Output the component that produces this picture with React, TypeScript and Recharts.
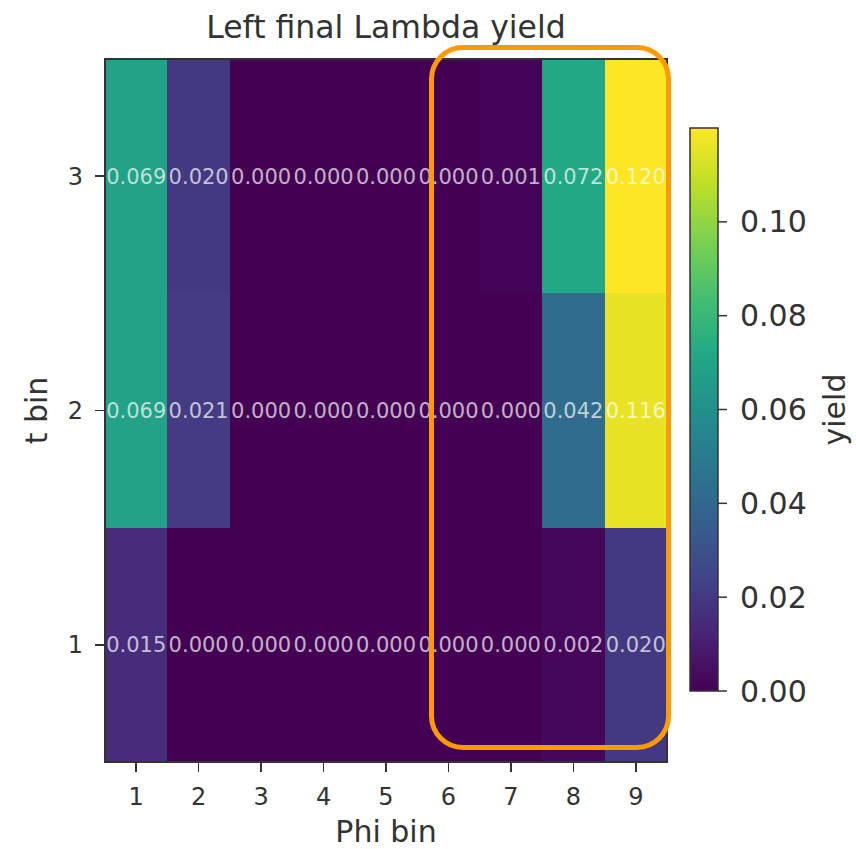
import React from 'react';
import { ComposedChart, XAxis, YAxis, ReferenceArea, Scatter } from 'recharts';

// Bin labels
const phiBins = [1, 2, 3, 4, 5, 6, 7, 8, 9];
const tBins = [1, 2, 3];

// Yield per Phi bin, one array per t bin
const yieldT1 = [0.015, 0.0, 0.0, 0.0, 0.0, 0.0, 0.0, 0.002, 0.02];
const yieldT2 = [0.069, 0.021, 0.0, 0.0, 0.0, 0.0, 0.0, 0.042, 0.116];
const yieldT3 = [0.069, 0.02, 0.0, 0.0, 0.0, 0.0, 0.001, 0.072, 0.12];

// Colour scale
const colorbarTicks = [0, 0.02, 0.04, 0.06, 0.08, 0.1];
const yieldMin = 0;
const yieldMax = 0.12;

const VIRIDIS = [
  '#440154', '#482475', '#414487', '#355f8d', '#2a788e', '#21918c',
  '#22a884', '#44bf70', '#7ad151', '#bddf26', '#fde725',
];

const FONT = '"DejaVu Sans", sans-serif';
const INK = '#333333';

function hexToRgb(h: string) {
  return [1, 3, 5].map((i) => parseInt(h.slice(i, i + 2), 16));
}

function viridis(t: number) {
  const c = Math.max(0, Math.min(1, t)) * (VIRIDIS.length - 1);
  const i = Math.min(Math.floor(c), VIRIDIS.length - 2);
  const f = c - i;
  const a = hexToRgb(VIRIDIS[i]);
  const b = hexToRgb(VIRIDIS[i + 1]);
  const m = a.map((v, k) => Math.round(v + (b[k] - v) * f));
  return `rgb(${m[0]},${m[1]},${m[2]})`;
}

const rows = [yieldT1, yieldT2, yieldT3];
const cells = tBins.flatMap((t, i) =>
  rows[i].map((v, j) => ({ phi: phiBins[j], t, v }))
);

// two corner points spanning the colour bar
const colorbarData = [
  { x: 0, y: yieldMin },
  { x: 1, y: yieldMax },
];

const CellText = (props: any) => {
  const { cx, cy, payload } = props;
  return (
    <text
      x={cx}
      y={cy}
      dy="0.36em"
      textAnchor="middle"
      fontSize={21}
      fontFamily={FONT}
      fill="#ffffff"
      fillOpacity={0.7}
    >
      {payload.v.toFixed(3)}
    </text>
  );
};

const VerticalLabel = (text: string, dxFromLeft: number) => (props: any) => {
  const vb = props.viewBox || {};
  const x = vb.x + dxFromLeft;
  const y = vb.y + vb.height / 2;
  return (
    <text
      x={x}
      y={y}
      transform={`rotate(-90, ${x}, ${y})`}
      textAnchor="middle"
      fontSize={30}
      fontFamily={FONT}
      fill={INK}
    >
      {text}
    </text>
  );
};

export default function App() {
  return (
    <div
      style={{
        position: 'absolute',
        left: 0,
        top: 0,
        width: 856,
        height: 849,
        background: '#ffffff',
        fontFamily: FONT,
      }}
    >
      <div
        style={{
          position: 'absolute',
          left: 105,
          top: 12,
          width: 562,
          textAlign: 'center',
          fontSize: 31.5,
          lineHeight: '31px',
          color: INK,
          fontFamily: FONT,
          whiteSpace: 'nowrap',
        }}
      >
        Left final Lambda yield
      </div>

      <div style={{ position: 'absolute', left: 0, top: 0 }}>
        <ComposedChart
          width={856}
          height={849}
          data={cells}
          margin={{ top: 59, right: 189, left: 0, bottom: 0 }}
          style={{ fontFamily: FONT, shapeRendering: 'crispEdges' }}
        >
          <XAxis
            type="number"
            dataKey="phi"
            domain={[0.5, 9.5]}
            ticks={phiBins}
            interval={0}
            allowDataOverflow
            height={87}
            tickSize={10}
            tickMargin={16}
            axisLine={{ stroke: INK, strokeWidth: 1.5 }}
            tickLine={{ stroke: INK, strokeWidth: 1.5 }}
            tick={{ fontSize: 24, fill: INK, fontFamily: FONT }}
            label={{ value: 'Phi bin', position: 'insideBottom', offset: 7, fontSize: 30, fill: INK, fontFamily: FONT }}
          />
          <YAxis
            type="number"
            dataKey="t"
            domain={[0.5, 3.5]}
            ticks={tBins}
            interval={0}
            allowDataOverflow
            width={105}
            tickSize={10}
            tickMargin={12}
            axisLine={{ stroke: INK, strokeWidth: 1.5 }}
            tickLine={{ stroke: INK, strokeWidth: 1.5 }}
            tick={{ fontSize: 24, fill: INK, fontFamily: FONT }}
            label={{ content: VerticalLabel('t bin', 47) }}
          />
          {cells.map((c) => (
            <ReferenceArea
              key={`${c.phi}-${c.t}`}
              x1={c.phi - 0.5}
              x2={c.phi + 0.5}
              y1={c.t - 0.5}
              y2={c.t + 0.5}
              fill={viridis((c.v - yieldMin) / (yieldMax - yieldMin))}
              fillOpacity={1}
              stroke="none"
            />
          ))}
          <ReferenceArea
            x1={0.5}
            x2={9.5}
            y1={0.5}
            y2={3.5}
            fill="none"
            stroke={INK}
            strokeWidth={1.5}
          />
          <Scatter dataKey="t" shape={CellText} isAnimationActive={false} />
        </ComposedChart>
      </div>

      <div style={{ position: 'absolute', left: 0, top: 0 }}>
        <ComposedChart
          width={856}
          height={849}
          data={colorbarData}
          margin={{ top: 128, right: 8, left: 690, bottom: 158 }}
          style={{ fontFamily: FONT }}
        >
          <defs>
            <linearGradient id="viridisBar" x1="0" y1="1" x2="0" y2="0">
              {VIRIDIS.map((c, i) => (
                <stop key={c} offset={`${(i / (VIRIDIS.length - 1)) * 100}%`} stopColor={c} />
              ))}
            </linearGradient>
          </defs>
          <XAxis type="number" dataKey="x" domain={[0, 1]} hide />
          <YAxis
            type="number"
            dataKey="y"
            orientation="right"
            domain={[yieldMin, yieldMax]}
            ticks={colorbarTicks}
            interval={0}
            width={130}
            tickSize={9}
            tickMargin={13}
            axisLine={false}
            tickLine={{ stroke: INK, strokeWidth: 1.5 }}
            tick={{ fontSize: 30, fill: INK, fontFamily: FONT }}
            tickFormatter={(v: number) => v.toFixed(2)}
            label={{ content: VerticalLabel('yield', 127) }}
          />
          <ReferenceArea
            x1={0}
            x2={1}
            y1={yieldMin}
            y2={yieldMax}
            fill="url(#viridisBar)"
            fillOpacity={1}
            stroke={INK}
            strokeWidth={1.5}
          />
        </ComposedChart>
      </div>

      <div
        style={{
          position: 'absolute',
          left: 429,
          top: 45,
          width: 242,
          height: 705,
          boxSizing: 'border-box',
          border: '5px solid #ff9a00',
          borderRadius: 34,
        }}
      />
    </div>
  );
}
